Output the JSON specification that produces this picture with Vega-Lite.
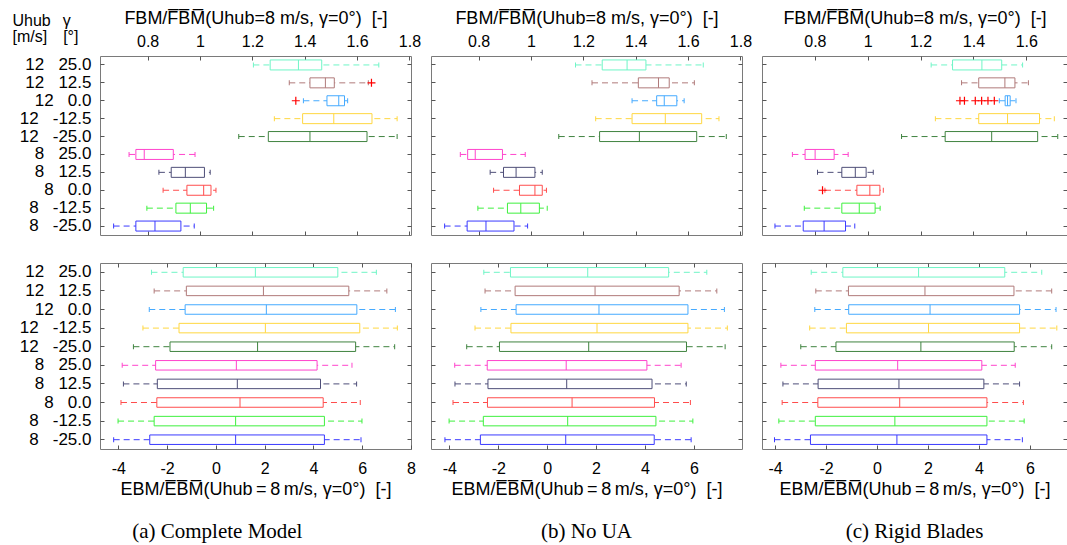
{
"$schema": "https://vega.github.io/schema/vega-lite/v6.json",
"padding": {"left": 11, "top": 8, "right": 0, "bottom": 0},
"background": "white",
"datasets": {"box": [
{"m":"a","k":"F","lab":"12|25.0","lo":1.204,"q1":1.268,"med":1.376,"q3":1.465,"hi":1.683},
{"m":"a","k":"F","lab":"12|12.5","lo":1.341,"q1":1.420,"med":1.479,"q3":1.513,"hi":1.643},
{"m":"a","k":"F","lab":"12|0.0","lo":1.395,"q1":1.485,"med":1.530,"q3":1.552,"hi":1.564},
{"m":"a","k":"F","lab":"12|-12.5","lo":1.284,"q1":1.392,"med":1.511,"q3":1.657,"hi":1.753},
{"m":"a","k":"F","lab":"12|-25.0","lo":1.148,"q1":1.261,"med":1.420,"q3":1.638,"hi":1.753},
{"m":"a","k":"F","lab":"8|25.0","lo":0.729,"q1":0.755,"med":0.787,"q3":0.898,"hi":0.981},
{"m":"a","k":"F","lab":"8|12.5","lo":0.843,"q1":0.890,"med":0.944,"q3":1.017,"hi":1.039},
{"m":"a","k":"F","lab":"8|0.0","lo":0.859,"q1":0.950,"med":1.014,"q3":1.042,"hi":1.061},
{"m":"a","k":"F","lab":"8|-12.5","lo":0.797,"q1":0.908,"med":0.963,"q3":1.025,"hi":1.052},
{"m":"a","k":"F","lab":"8|-25.0","lo":0.670,"q1":0.755,"med":0.828,"q3":0.927,"hi":0.978},
{"m":"a","k":"F","lab":"12|12.5","o":1.655},
{"m":"a","k":"F","lab":"12|0.0","o":1.366},
{"m":"b","k":"F","lab":"12|25.0","lo":1.170,"q1":1.272,"med":1.367,"q3":1.439,"hi":1.658},
{"m":"b","k":"F","lab":"12|12.5","lo":1.233,"q1":1.410,"med":1.487,"q3":1.528,"hi":1.624},
{"m":"b","k":"F","lab":"12|0.0","lo":1.386,"q1":1.480,"med":1.509,"q3":1.557,"hi":1.585},
{"m":"b","k":"F","lab":"12|-12.5","lo":1.247,"q1":1.386,"med":1.513,"q3":1.652,"hi":1.718},
{"m":"b","k":"F","lab":"12|-25.0","lo":1.106,"q1":1.262,"med":1.414,"q3":1.633,"hi":1.746},
{"m":"b","k":"F","lab":"8|25.0","lo":0.730,"q1":0.758,"med":0.787,"q3":0.891,"hi":0.978},
{"m":"b","k":"F","lab":"8|12.5","lo":0.844,"q1":0.895,"med":0.943,"q3":1.015,"hi":1.043},
{"m":"b","k":"F","lab":"8|0.0","lo":0.857,"q1":0.956,"med":1.015,"q3":1.043,"hi":1.059},
{"m":"b","k":"F","lab":"8|-12.5","lo":0.797,"q1":0.910,"med":0.961,"q3":1.032,"hi":1.062},
{"m":"b","k":"F","lab":"8|-25.0","lo":0.670,"q1":0.756,"med":0.828,"q3":0.935,"hi":0.987},
{"m":"c","k":"F","lab":"12|25.0","lo":1.240,"q1":1.321,"med":1.432,"q3":1.507,"hi":1.586},
{"m":"c","k":"F","lab":"12|12.5","lo":1.355,"q1":1.420,"med":1.519,"q3":1.557,"hi":1.608},
{"m":"c","k":"F","lab":"12|0.0","lo":1.498,"q1":1.520,"med":1.529,"q3":1.539,"hi":1.561},
{"m":"c","k":"F","lab":"12|-12.5","lo":1.256,"q1":1.420,"med":1.529,"q3":1.650,"hi":1.706},
{"m":"c","k":"F","lab":"12|-25.0","lo":1.128,"q1":1.293,"med":1.469,"q3":1.643,"hi":1.719},
{"m":"c","k":"F","lab":"8|25.0","lo":0.715,"q1":0.763,"med":0.801,"q3":0.873,"hi":0.926},
{"m":"c","k":"F","lab":"8|12.5","lo":0.810,"q1":0.902,"med":0.953,"q3":0.994,"hi":1.021},
{"m":"c","k":"F","lab":"8|0.0","lo":0.838,"q1":0.959,"med":1.008,"q3":1.046,"hi":1.059},
{"m":"c","k":"F","lab":"8|-12.5","lo":0.760,"q1":0.902,"med":0.968,"q3":1.028,"hi":1.047},
{"m":"c","k":"F","lab":"8|-25.0","lo":0.649,"q1":0.756,"med":0.835,"q3":0.916,"hi":0.951},
{"m":"c","k":"F","lab":"12|0.0","o":1.349},
{"m":"c","k":"F","lab":"12|0.0","o":1.366},
{"m":"c","k":"F","lab":"12|0.0","o":1.407},
{"m":"c","k":"F","lab":"12|0.0","o":1.431},
{"m":"c","k":"F","lab":"12|0.0","o":1.455},
{"m":"c","k":"F","lab":"12|0.0","o":1.479},
{"m":"c","k":"F","lab":"8|0.0","o":0.829},
{"m":"a","k":"E","lab":"12|25.0","lo":-2.64,"q1":-1.34,"med":1.62,"q3":5.00,"hi":6.58},
{"m":"a","k":"E","lab":"12|12.5","lo":-2.53,"q1":-1.21,"med":1.95,"q3":5.45,"hi":7.01},
{"m":"a","k":"E","lab":"12|0.0","lo":-2.73,"q1":-1.26,"med":2.07,"q3":5.78,"hi":7.36},
{"m":"a","k":"E","lab":"12|-12.5","lo":-2.99,"q1":-1.51,"med":2.03,"q3":5.90,"hi":7.44},
{"m":"a","k":"E","lab":"12|-25.0","lo":-3.38,"q1":-1.88,"med":1.71,"q3":5.73,"hi":7.33},
{"m":"a","k":"E","lab":"8|25.0","lo":-3.84,"q1":-2.47,"med":0.84,"q3":4.15,"hi":5.58},
{"m":"a","k":"E","lab":"8|12.5","lo":-3.79,"q1":-2.40,"med":0.88,"q3":4.29,"hi":5.77},
{"m":"a","k":"E","lab":"8|0.0","lo":-3.89,"q1":-2.42,"med":0.99,"q3":4.40,"hi":5.92},
{"m":"a","k":"E","lab":"8|-12.5","lo":-4.01,"q1":-2.53,"med":0.81,"q3":4.45,"hi":5.99},
{"m":"a","k":"E","lab":"8|-25.0","lo":-4.19,"q1":-2.71,"med":0.81,"q3":4.45,"hi":5.95},
{"m":"b","k":"E","lab":"12|25.0","lo":-2.59,"q1":-1.50,"med":1.66,"q3":4.97,"hi":6.53},
{"m":"b","k":"E","lab":"12|12.5","lo":-2.54,"q1":-1.31,"med":1.96,"q3":5.40,"hi":6.94},
{"m":"b","k":"E","lab":"12|0.0","lo":-2.71,"q1":-1.27,"med":2.12,"q3":5.76,"hi":7.25},
{"m":"b","k":"E","lab":"12|-12.5","lo":-2.95,"q1":-1.48,"med":2.04,"q3":5.76,"hi":7.37},
{"m":"b","k":"E","lab":"12|-25.0","lo":-3.29,"q1":-1.95,"med":1.70,"q3":5.70,"hi":7.28},
{"m":"b","k":"E","lab":"8|25.0","lo":-3.78,"q1":-2.45,"med":0.78,"q3":4.08,"hi":5.48},
{"m":"b","k":"E","lab":"8|12.5","lo":-3.77,"q1":-2.42,"med":0.80,"q3":4.29,"hi":5.69},
{"m":"b","k":"E","lab":"8|0.0","lo":-3.85,"q1":-2.44,"med":1.02,"q3":4.39,"hi":5.86},
{"m":"b","k":"E","lab":"8|-12.5","lo":-4.01,"q1":-2.61,"med":0.84,"q3":4.45,"hi":5.96},
{"m":"b","k":"E","lab":"8|-25.0","lo":-4.18,"q1":-2.73,"med":0.76,"q3":4.38,"hi":5.89},
{"m":"c","k":"E","lab":"12|25.0","lo":-2.58,"q1":-1.34,"med":1.63,"q3":5.01,"hi":6.46},
{"m":"c","k":"E","lab":"12|12.5","lo":-2.40,"q1":-1.12,"med":1.88,"q3":5.37,"hi":6.85},
{"m":"c","k":"E","lab":"12|0.0","lo":-2.44,"q1":-1.11,"med":2.08,"q3":5.59,"hi":7.02},
{"m":"c","k":"E","lab":"12|-12.5","lo":-2.64,"q1":-1.20,"med":2.02,"q3":5.59,"hi":7.05},
{"m":"c","k":"E","lab":"12|-25.0","lo":-2.99,"q1":-1.61,"med":1.72,"q3":5.38,"hi":6.85},
{"m":"c","k":"E","lab":"8|25.0","lo":-3.77,"q1":-2.42,"med":0.81,"q3":4.11,"hi":5.42},
{"m":"c","k":"E","lab":"8|12.5","lo":-3.69,"q1":-2.31,"med":0.86,"q3":4.19,"hi":5.59},
{"m":"c","k":"E","lab":"8|0.0","lo":-3.72,"q1":-2.32,"med":0.89,"q3":4.31,"hi":5.74},
{"m":"c","k":"E","lab":"8|-12.5","lo":-3.85,"q1":-2.42,"med":0.70,"q3":4.31,"hi":5.77},
{"m":"c","k":"E","lab":"8|-25.0","lo":-4.02,"q1":-2.61,"med":0.78,"q3":4.31,"hi":5.70}
]},
"data": {"name": "box"},
"columns": 3,
"spacing": {"row": 28, "column": 20},
"bounds": "flush",
"concat": [
 {"width": 311, "height": 179,
  "transform": [{"filter": "datum.m=='a' && datum.k=='F'"}],
  "encoding": {
   "y": {"field": "lab", "type": "nominal", "scale": {"domain": ["12|25.0","12|12.5","12|0.0","12|-12.5","12|-25.0","8|25.0","8|12.5","8|0.0","8|-12.5","8|-25.0"], "paddingInner": 0, "paddingOuter": 0}, "axis": null},
   "color": {"field": "lab", "type": "nominal", "scale": {"domain": ["12|25.0","12|12.5","12|0.0","12|-12.5","12|-25.0","8|25.0","8|12.5","8|0.0","8|-12.5","8|-25.0"], "range": ["#6ff5c6","#b07a7a","#45aaff","#ffd740","#3f833f","#ff44cc","#4e4e78","#ff4d4d","#3ef03e","#3a3aff"]}, "legend": null}
  },
  "layer": [
   {"transform": [{"filter": "isValid(datum.lo)"}],
    "mark": {"type": "rule", "strokeDash": [6, 4], "strokeWidth": 1},
    "encoding": {
     "y": {"field": "lab", "type": "nominal", "scale": {"domain": ["12|25.0","12|12.5","12|0.0","12|-12.5","12|-25.0","8|25.0","8|12.5","8|0.0","8|-12.5","8|-25.0"], "paddingInner": 0, "paddingOuter": 0},
      "axis": {"orient": "left", "labelFontSize": 17, "labelPadding": 13, "labelExpr": "replace(datum.label, '|', '\u00a0\u00a0\u00a0')", "title": ["Uhub\u2002\u2005\u03b3", "[m/s]\u2002\u2002[\u00b0]"], "titleAngle": 0, "titleAlign": "left", "titleBaseline": "alphabetic", "titleX": -88, "titleY": -31, "titleFontSize": 16, "titleLineHeight": 16}},
     "x": {"field": "lo", "type": "quantitative", "scale": {"domain": [0.618, 1.806], "nice": false, "zero": false},
      "axis": {"orient": "top", "values": [0.8, 1, 1.2, 1.4, 1.6, 1.8], "labelExpr": "'' + datum.value", "labelBaseline": "alphabetic", "labelPadding": 14, "title": "FBM/F\u0305B\u0305M\u0305(Uhub=8 m/s, \u03b3=0\u00b0)\u00a0\u00a0[-]", "titleBaseline": "alphabetic", "titleY": -33}},
     "x2": {"field": "hi"}}},
   {"transform": [{"filter": "isValid(datum.lo)"}],
    "mark": {"type": "bar", "size": 10, "strokeWidth": 1, "opacity": 1},
    "encoding": {
     "y": {"field": "lab", "type": "nominal", "scale": {"domain": ["12|25.0","12|12.5","12|0.0","12|-12.5","12|-25.0","8|25.0","8|12.5","8|0.0","8|-12.5","8|-25.0"], "paddingInner": 0, "paddingOuter": 0}, "axis": {"orient": "right", "labels": false, "title": null}},
     "x": {"field": "q1", "type": "quantitative", "scale": {"domain": [0.618, 1.806], "nice": false, "zero": false}, "axis": {"orient": "bottom", "values": [0.8, 1, 1.2, 1.4, 1.6, 1.8], "labels": false, "title": null}},
     "x2": {"field": "q3"},
     "color": {"value": "white"},
     "stroke": {"field": "lab", "type": "nominal", "scale": {"domain": ["12|25.0","12|12.5","12|0.0","12|-12.5","12|-25.0","8|25.0","8|12.5","8|0.0","8|-12.5","8|-25.0"], "range": ["#6ff5c6","#b07a7a","#45aaff","#ffd740","#3f833f","#ff44cc","#4e4e78","#ff4d4d","#3ef03e","#3a3aff"]}, "legend": null}}},
   {"transform": [{"filter": "isValid(datum.lo)"}],
    "mark": {"type": "tick", "size": 10, "thickness": 1, "opacity": 1},
    "encoding": {"x": {"field": "med", "type": "quantitative", "scale": {"domain": [0.618, 1.806], "nice": false, "zero": false}, "axis": null}}},
   {"transform": [{"filter": "isValid(datum.lo)"}],
    "mark": {"type": "tick", "size": 5, "thickness": 1, "opacity": 1},
    "encoding": {"x": {"field": "lo", "type": "quantitative", "scale": {"domain": [0.618, 1.806], "nice": false, "zero": false}, "axis": null}}},
   {"transform": [{"filter": "isValid(datum.lo)"}],
    "mark": {"type": "tick", "size": 5, "thickness": 1, "opacity": 1},
    "encoding": {"x": {"field": "hi", "type": "quantitative", "scale": {"domain": [0.618, 1.806], "nice": false, "zero": false}, "axis": null}}},
   {"transform": [{"filter": "isValid(datum.o)"}],
    "mark": {"type": "point", "shape": "M-1,0L1,0M0,-1L0,1", "size": 64, "filled": false, "strokeWidth": 1.2, "opacity": 1},
    "encoding": {"x": {"field": "o", "type": "quantitative", "scale": {"domain": [0.618, 1.806], "nice": false, "zero": false}, "axis": null}, "color": {"value": "#ff0000"}}}
  ],
  "resolve": {"axis": {"x": "independent", "y": "independent"}}
 },
 {"width": 311, "height": 179,
  "transform": [{"filter": "datum.m=='b' && datum.k=='F'"}],
  "encoding": {
   "y": {"field": "lab", "type": "nominal", "scale": {"domain": ["12|25.0","12|12.5","12|0.0","12|-12.5","12|-25.0","8|25.0","8|12.5","8|0.0","8|-12.5","8|-25.0"], "paddingInner": 0, "paddingOuter": 0}, "axis": null},
   "color": {"field": "lab", "type": "nominal", "scale": {"domain": ["12|25.0","12|12.5","12|0.0","12|-12.5","12|-25.0","8|25.0","8|12.5","8|0.0","8|-12.5","8|-25.0"], "range": ["#6ff5c6","#b07a7a","#45aaff","#ffd740","#3f833f","#ff44cc","#4e4e78","#ff4d4d","#3ef03e","#3a3aff"]}, "legend": null}
  },
  "layer": [
   {"mark": {"type": "rule", "strokeDash": [6, 4], "strokeWidth": 1},
    "encoding": {
     "y": {"field": "lab", "type": "nominal", "scale": {"domain": ["12|25.0","12|12.5","12|0.0","12|-12.5","12|-25.0","8|25.0","8|12.5","8|0.0","8|-12.5","8|-25.0"], "paddingInner": 0, "paddingOuter": 0}, "axis": {"orient": "left", "labels": false, "title": null}},
     "x": {"field": "lo", "type": "quantitative", "scale": {"domain": [0.618, 1.806], "nice": false, "zero": false},
      "axis": {"orient": "top", "values": [0.8, 1, 1.2, 1.4, 1.6, 1.8], "labelExpr": "'' + datum.value", "labelBaseline": "alphabetic", "labelPadding": 14, "title": "FBM/F\u0305B\u0305M\u0305(Uhub=8 m/s, \u03b3=0\u00b0)\u00a0\u00a0[-]", "titleBaseline": "alphabetic", "titleY": -33}},
     "x2": {"field": "hi"}}},
   {"mark": {"type": "bar", "size": 10, "strokeWidth": 1, "opacity": 1},
    "encoding": {
     "y": {"field": "lab", "type": "nominal", "scale": {"domain": ["12|25.0","12|12.5","12|0.0","12|-12.5","12|-25.0","8|25.0","8|12.5","8|0.0","8|-12.5","8|-25.0"], "paddingInner": 0, "paddingOuter": 0}, "axis": {"orient": "right", "labels": false, "title": null}},
     "x": {"field": "q1", "type": "quantitative", "scale": {"domain": [0.618, 1.806], "nice": false, "zero": false}, "axis": {"orient": "bottom", "values": [0.8, 1, 1.2, 1.4, 1.6, 1.8], "labels": false, "title": null}},
     "x2": {"field": "q3"},
     "color": {"value": "white"},
     "stroke": {"field": "lab", "type": "nominal", "scale": {"domain": ["12|25.0","12|12.5","12|0.0","12|-12.5","12|-25.0","8|25.0","8|12.5","8|0.0","8|-12.5","8|-25.0"], "range": ["#6ff5c6","#b07a7a","#45aaff","#ffd740","#3f833f","#ff44cc","#4e4e78","#ff4d4d","#3ef03e","#3a3aff"]}, "legend": null}}},
   {"mark": {"type": "tick", "size": 10, "thickness": 1, "opacity": 1},
    "encoding": {"x": {"field": "med", "type": "quantitative", "scale": {"domain": [0.618, 1.806], "nice": false, "zero": false}, "axis": null}}},
   {"mark": {"type": "tick", "size": 5, "thickness": 1, "opacity": 1},
    "encoding": {"x": {"field": "lo", "type": "quantitative", "scale": {"domain": [0.618, 1.806], "nice": false, "zero": false}, "axis": null}}},
   {"mark": {"type": "tick", "size": 5, "thickness": 1, "opacity": 1},
    "encoding": {"x": {"field": "hi", "type": "quantitative", "scale": {"domain": [0.618, 1.806], "nice": false, "zero": false}, "axis": null}}}
  ],
  "resolve": {"axis": {"x": "independent", "y": "independent"}}
 },
 {"width": 305, "height": 179,
  "transform": [{"filter": "datum.m=='c' && datum.k=='F'"}],
  "encoding": {
   "y": {"field": "lab", "type": "nominal", "scale": {"domain": ["12|25.0","12|12.5","12|0.0","12|-12.5","12|-25.0","8|25.0","8|12.5","8|0.0","8|-12.5","8|-25.0"], "paddingInner": 0, "paddingOuter": 0}, "axis": null},
   "color": {"field": "lab", "type": "nominal", "scale": {"domain": ["12|25.0","12|12.5","12|0.0","12|-12.5","12|-25.0","8|25.0","8|12.5","8|0.0","8|-12.5","8|-25.0"], "range": ["#6ff5c6","#b07a7a","#45aaff","#ffd740","#3f833f","#ff44cc","#4e4e78","#ff4d4d","#3ef03e","#3a3aff"]}, "legend": null}
  },
  "layer": [
   {"transform": [{"filter": "isValid(datum.lo)"}],
    "mark": {"type": "rule", "strokeDash": [6, 4], "strokeWidth": 1},
    "encoding": {
     "y": {"field": "lab", "type": "nominal", "scale": {"domain": ["12|25.0","12|12.5","12|0.0","12|-12.5","12|-25.0","8|25.0","8|12.5","8|0.0","8|-12.5","8|-25.0"], "paddingInner": 0, "paddingOuter": 0}, "axis": {"orient": "left", "labels": false, "title": null}},
     "x": {"field": "lo", "type": "quantitative", "scale": {"domain": [0.6, 1.754], "nice": false, "zero": false},
      "axis": {"orient": "top", "values": [0.8, 1, 1.2, 1.4, 1.6], "labelExpr": "'' + datum.value", "labelBaseline": "alphabetic", "labelPadding": 14, "title": "FBM/F\u0305B\u0305M\u0305(Uhub=8 m/s, \u03b3=0\u00b0)\u00a0\u00a0[-]", "titleBaseline": "alphabetic", "titleY": -33}},
     "x2": {"field": "hi"}}},
   {"transform": [{"filter": "isValid(datum.lo)"}],
    "mark": {"type": "bar", "size": 10, "strokeWidth": 1, "opacity": 1},
    "encoding": {
     "y": {"field": "lab", "type": "nominal", "scale": {"domain": ["12|25.0","12|12.5","12|0.0","12|-12.5","12|-25.0","8|25.0","8|12.5","8|0.0","8|-12.5","8|-25.0"], "paddingInner": 0, "paddingOuter": 0}, "axis": {"orient": "right", "labels": false, "title": null}},
     "x": {"field": "q1", "type": "quantitative", "scale": {"domain": [0.6, 1.754], "nice": false, "zero": false}, "axis": {"orient": "bottom", "values": [0.8, 1, 1.2, 1.4, 1.6], "labels": false, "title": null}},
     "x2": {"field": "q3"},
     "color": {"value": "white"},
     "stroke": {"field": "lab", "type": "nominal", "scale": {"domain": ["12|25.0","12|12.5","12|0.0","12|-12.5","12|-25.0","8|25.0","8|12.5","8|0.0","8|-12.5","8|-25.0"], "range": ["#6ff5c6","#b07a7a","#45aaff","#ffd740","#3f833f","#ff44cc","#4e4e78","#ff4d4d","#3ef03e","#3a3aff"]}, "legend": null}}},
   {"transform": [{"filter": "isValid(datum.lo)"}],
    "mark": {"type": "tick", "size": 10, "thickness": 1, "opacity": 1},
    "encoding": {"x": {"field": "med", "type": "quantitative", "scale": {"domain": [0.6, 1.754], "nice": false, "zero": false}, "axis": null}}},
   {"transform": [{"filter": "isValid(datum.lo)"}],
    "mark": {"type": "tick", "size": 5, "thickness": 1, "opacity": 1},
    "encoding": {"x": {"field": "lo", "type": "quantitative", "scale": {"domain": [0.6, 1.754], "nice": false, "zero": false}, "axis": null}}},
   {"transform": [{"filter": "isValid(datum.lo)"}],
    "mark": {"type": "tick", "size": 5, "thickness": 1, "opacity": 1},
    "encoding": {"x": {"field": "hi", "type": "quantitative", "scale": {"domain": [0.6, 1.754], "nice": false, "zero": false}, "axis": null}}},
   {"transform": [{"filter": "isValid(datum.o)"}],
    "mark": {"type": "point", "shape": "M-1,0L1,0M0,-1L0,1", "size": 64, "filled": false, "strokeWidth": 1.2, "opacity": 1},
    "encoding": {"x": {"field": "o", "type": "quantitative", "scale": {"domain": [0.6, 1.754], "nice": false, "zero": false}, "axis": null}, "color": {"value": "#ff0000"}}}
  ],
  "resolve": {"axis": {"x": "independent", "y": "independent"}}
 },
 {"width": 311, "height": 186,
  "transform": [{"filter": "datum.m=='a' && datum.k=='E'"}],
  "title": {"text": "(a) Complete Model", "orient": "bottom", "anchor": "middle", "frame": "bounds", "font": "Liberation Serif", "fontSize": 21, "fontWeight": "normal", "offset": 23, "baseline": "top", "color": "#000"},
  "encoding": {
   "y": {"field": "lab", "type": "nominal", "scale": {"domain": ["12|25.0","12|12.5","12|0.0","12|-12.5","12|-25.0","8|25.0","8|12.5","8|0.0","8|-12.5","8|-25.0"], "paddingInner": 0, "paddingOuter": 0}, "axis": null},
   "color": {"field": "lab", "type": "nominal", "scale": {"domain": ["12|25.0","12|12.5","12|0.0","12|-12.5","12|-25.0","8|25.0","8|12.5","8|0.0","8|-12.5","8|-25.0"], "range": ["#6ff5c6","#b07a7a","#45aaff","#ffd740","#3f833f","#ff44cc","#4e4e78","#ff4d4d","#3ef03e","#3a3aff"]}, "legend": null}
  },
  "layer": [
   {"mark": {"type": "rule", "strokeDash": [6, 4], "strokeWidth": 1},
    "encoding": {
     "y": {"field": "lab", "type": "nominal", "scale": {"domain": ["12|25.0","12|12.5","12|0.0","12|-12.5","12|-25.0","8|25.0","8|12.5","8|0.0","8|-12.5","8|-25.0"], "paddingInner": 0, "paddingOuter": 0},
      "axis": {"orient": "left", "labelFontSize": 17, "labelPadding": 13, "labelExpr": "replace(datum.label, '|', '\u00a0\u00a0\u00a0')", "title": null}},
     "x": {"field": "lo", "type": "quantitative", "scale": {"domain": [-4.75, 8.0], "nice": false, "zero": false},
      "axis": {"orient": "bottom", "values": [-4, -2, 0, 2, 4, 6, 8], "labelExpr": "'' + datum.value", "labelPadding": 15, "title": "EBM/E\u0305B\u0305M\u0305(Uhub\u2009=\u20098\u2009m/s, \u03b3=0\u00b0)\u00a0\u00a0[-]", "titleBaseline": "alphabetic", "titleY": 45}},
     "x2": {"field": "hi"}}},
   {"mark": {"type": "bar", "size": 9.5, "strokeWidth": 1, "opacity": 1},
    "encoding": {
     "y": {"field": "lab", "type": "nominal", "scale": {"domain": ["12|25.0","12|12.5","12|0.0","12|-12.5","12|-25.0","8|25.0","8|12.5","8|0.0","8|-12.5","8|-25.0"], "paddingInner": 0, "paddingOuter": 0}, "axis": {"orient": "right", "labels": false, "title": null}},
     "x": {"field": "q1", "type": "quantitative", "scale": {"domain": [-4.75, 8.0], "nice": false, "zero": false}, "axis": {"orient": "top", "values": [-4, -2, 0, 2, 4, 6, 8], "labels": false, "title": null}},
     "x2": {"field": "q3"},
     "color": {"value": "white"},
     "stroke": {"field": "lab", "type": "nominal", "scale": {"domain": ["12|25.0","12|12.5","12|0.0","12|-12.5","12|-25.0","8|25.0","8|12.5","8|0.0","8|-12.5","8|-25.0"], "range": ["#6ff5c6","#b07a7a","#45aaff","#ffd740","#3f833f","#ff44cc","#4e4e78","#ff4d4d","#3ef03e","#3a3aff"]}, "legend": null}}},
   {"mark": {"type": "tick", "size": 9.5, "thickness": 1, "opacity": 1},
    "encoding": {"x": {"field": "med", "type": "quantitative", "scale": {"domain": [-4.75, 8.0], "nice": false, "zero": false}, "axis": null}}},
   {"mark": {"type": "tick", "size": 5, "thickness": 1, "opacity": 1},
    "encoding": {"x": {"field": "lo", "type": "quantitative", "scale": {"domain": [-4.75, 8.0], "nice": false, "zero": false}, "axis": null}}},
   {"mark": {"type": "tick", "size": 5, "thickness": 1, "opacity": 1},
    "encoding": {"x": {"field": "hi", "type": "quantitative", "scale": {"domain": [-4.75, 8.0], "nice": false, "zero": false}, "axis": null}}}
  ],
  "resolve": {"axis": {"x": "independent", "y": "independent"}}
 },
 {"width": 311, "height": 186,
  "transform": [{"filter": "datum.m=='b' && datum.k=='E'"}],
  "title": {"text": "(b) No UA", "orient": "bottom", "anchor": "middle", "frame": "bounds", "font": "Liberation Serif", "fontSize": 21, "fontWeight": "normal", "offset": 23, "baseline": "top", "color": "#000"},
  "encoding": {
   "y": {"field": "lab", "type": "nominal", "scale": {"domain": ["12|25.0","12|12.5","12|0.0","12|-12.5","12|-25.0","8|25.0","8|12.5","8|0.0","8|-12.5","8|-25.0"], "paddingInner": 0, "paddingOuter": 0}, "axis": null},
   "color": {"field": "lab", "type": "nominal", "scale": {"domain": ["12|25.0","12|12.5","12|0.0","12|-12.5","12|-25.0","8|25.0","8|12.5","8|0.0","8|-12.5","8|-25.0"], "range": ["#6ff5c6","#b07a7a","#45aaff","#ffd740","#3f833f","#ff44cc","#4e4e78","#ff4d4d","#3ef03e","#3a3aff"]}, "legend": null}
  },
  "layer": [
   {"mark": {"type": "rule", "strokeDash": [6, 4], "strokeWidth": 1},
    "encoding": {
     "y": {"field": "lab", "type": "nominal", "scale": {"domain": ["12|25.0","12|12.5","12|0.0","12|-12.5","12|-25.0","8|25.0","8|12.5","8|0.0","8|-12.5","8|-25.0"], "paddingInner": 0, "paddingOuter": 0}, "axis": {"orient": "left", "labels": false, "title": null}},
     "x": {"field": "lo", "type": "quantitative", "scale": {"domain": [-4.75, 7.97], "nice": false, "zero": false},
      "axis": {"orient": "bottom", "values": [-4, -2, 0, 2, 4, 6], "labelExpr": "'' + datum.value", "labelPadding": 15, "title": "EBM/E\u0305B\u0305M\u0305(Uhub\u2009=\u20098\u2009m/s, \u03b3=0\u00b0)\u00a0\u00a0[-]", "titleBaseline": "alphabetic", "titleY": 45}},
     "x2": {"field": "hi"}}},
   {"mark": {"type": "bar", "size": 9.5, "strokeWidth": 1, "opacity": 1},
    "encoding": {
     "y": {"field": "lab", "type": "nominal", "scale": {"domain": ["12|25.0","12|12.5","12|0.0","12|-12.5","12|-25.0","8|25.0","8|12.5","8|0.0","8|-12.5","8|-25.0"], "paddingInner": 0, "paddingOuter": 0}, "axis": {"orient": "right", "labels": false, "title": null}},
     "x": {"field": "q1", "type": "quantitative", "scale": {"domain": [-4.75, 7.97], "nice": false, "zero": false}, "axis": {"orient": "top", "values": [-4, -2, 0, 2, 4, 6], "labels": false, "title": null}},
     "x2": {"field": "q3"},
     "color": {"value": "white"},
     "stroke": {"field": "lab", "type": "nominal", "scale": {"domain": ["12|25.0","12|12.5","12|0.0","12|-12.5","12|-25.0","8|25.0","8|12.5","8|0.0","8|-12.5","8|-25.0"], "range": ["#6ff5c6","#b07a7a","#45aaff","#ffd740","#3f833f","#ff44cc","#4e4e78","#ff4d4d","#3ef03e","#3a3aff"]}, "legend": null}}},
   {"mark": {"type": "tick", "size": 9.5, "thickness": 1, "opacity": 1},
    "encoding": {"x": {"field": "med", "type": "quantitative", "scale": {"domain": [-4.75, 7.97], "nice": false, "zero": false}, "axis": null}}},
   {"mark": {"type": "tick", "size": 5, "thickness": 1, "opacity": 1},
    "encoding": {"x": {"field": "lo", "type": "quantitative", "scale": {"domain": [-4.75, 7.97], "nice": false, "zero": false}, "axis": null}}},
   {"mark": {"type": "tick", "size": 5, "thickness": 1, "opacity": 1},
    "encoding": {"x": {"field": "hi", "type": "quantitative", "scale": {"domain": [-4.75, 7.97], "nice": false, "zero": false}, "axis": null}}}
  ],
  "resolve": {"axis": {"x": "independent", "y": "independent"}}
 },
 {"width": 305, "height": 186,
  "transform": [{"filter": "datum.m=='c' && datum.k=='E'"}],
  "title": {"text": "(c) Rigid Blades", "orient": "bottom", "anchor": "middle", "frame": "bounds", "font": "Liberation Serif", "fontSize": 21, "fontWeight": "normal", "offset": 23, "baseline": "top", "color": "#000"},
  "encoding": {
   "y": {"field": "lab", "type": "nominal", "scale": {"domain": ["12|25.0","12|12.5","12|0.0","12|-12.5","12|-25.0","8|25.0","8|12.5","8|0.0","8|-12.5","8|-25.0"], "paddingInner": 0, "paddingOuter": 0}, "axis": null},
   "color": {"field": "lab", "type": "nominal", "scale": {"domain": ["12|25.0","12|12.5","12|0.0","12|-12.5","12|-25.0","8|25.0","8|12.5","8|0.0","8|-12.5","8|-25.0"], "range": ["#6ff5c6","#b07a7a","#45aaff","#ffd740","#3f833f","#ff44cc","#4e4e78","#ff4d4d","#3ef03e","#3a3aff"]}, "legend": null}
  },
  "layer": [
   {"mark": {"type": "rule", "strokeDash": [6, 4], "strokeWidth": 1},
    "encoding": {
     "y": {"field": "lab", "type": "nominal", "scale": {"domain": ["12|25.0","12|12.5","12|0.0","12|-12.5","12|-25.0","8|25.0","8|12.5","8|0.0","8|-12.5","8|-25.0"], "paddingInner": 0, "paddingOuter": 0}, "axis": {"orient": "left", "labels": false, "title": null}},
     "x": {"field": "lo", "type": "quantitative", "scale": {"domain": [-4.51, 7.45], "nice": false, "zero": false},
      "axis": {"orient": "bottom", "values": [-4, -2, 0, 2, 4, 6], "labelExpr": "'' + datum.value", "labelPadding": 15, "title": "EBM/E\u0305B\u0305M\u0305(Uhub\u2009=\u20098\u2009m/s, \u03b3=0\u00b0)\u00a0\u00a0[-]", "titleBaseline": "alphabetic", "titleY": 45}},
     "x2": {"field": "hi"}}},
   {"mark": {"type": "bar", "size": 9.5, "strokeWidth": 1, "opacity": 1},
    "encoding": {
     "y": {"field": "lab", "type": "nominal", "scale": {"domain": ["12|25.0","12|12.5","12|0.0","12|-12.5","12|-25.0","8|25.0","8|12.5","8|0.0","8|-12.5","8|-25.0"], "paddingInner": 0, "paddingOuter": 0}, "axis": {"orient": "right", "labels": false, "title": null}},
     "x": {"field": "q1", "type": "quantitative", "scale": {"domain": [-4.51, 7.45], "nice": false, "zero": false}, "axis": {"orient": "top", "values": [-4, -2, 0, 2, 4, 6], "labels": false, "title": null}},
     "x2": {"field": "q3"},
     "color": {"value": "white"},
     "stroke": {"field": "lab", "type": "nominal", "scale": {"domain": ["12|25.0","12|12.5","12|0.0","12|-12.5","12|-25.0","8|25.0","8|12.5","8|0.0","8|-12.5","8|-25.0"], "range": ["#6ff5c6","#b07a7a","#45aaff","#ffd740","#3f833f","#ff44cc","#4e4e78","#ff4d4d","#3ef03e","#3a3aff"]}, "legend": null}}},
   {"mark": {"type": "tick", "size": 9.5, "thickness": 1, "opacity": 1},
    "encoding": {"x": {"field": "med", "type": "quantitative", "scale": {"domain": [-4.51, 7.45], "nice": false, "zero": false}, "axis": null}}},
   {"mark": {"type": "tick", "size": 5, "thickness": 1, "opacity": 1},
    "encoding": {"x": {"field": "lo", "type": "quantitative", "scale": {"domain": [-4.51, 7.45], "nice": false, "zero": false}, "axis": null}}},
   {"mark": {"type": "tick", "size": 5, "thickness": 1, "opacity": 1},
    "encoding": {"x": {"field": "hi", "type": "quantitative", "scale": {"domain": [-4.51, 7.45], "nice": false, "zero": false}, "axis": null}}}
  ],
  "resolve": {"axis": {"x": "independent", "y": "independent"}}
 }
],
"config": {
 "font": "Liberation Sans",
 "view": {"stroke": "#7a7a7a", "strokeWidth": 1},
 "axis": {"domain": false, "grid": false, "tickColor": "#555555", "tickSize": -4, "tickWidth": 1, "labelFont": "Liberation Sans", "labelFontSize": 16, "labelColor": "#000000", "labelFlush": false, "labelOverlap": false, "titleFont": "Liberation Sans", "titleFontSize": 18, "titleFontWeight": "normal", "titleColor": "#000000"}
}
}
